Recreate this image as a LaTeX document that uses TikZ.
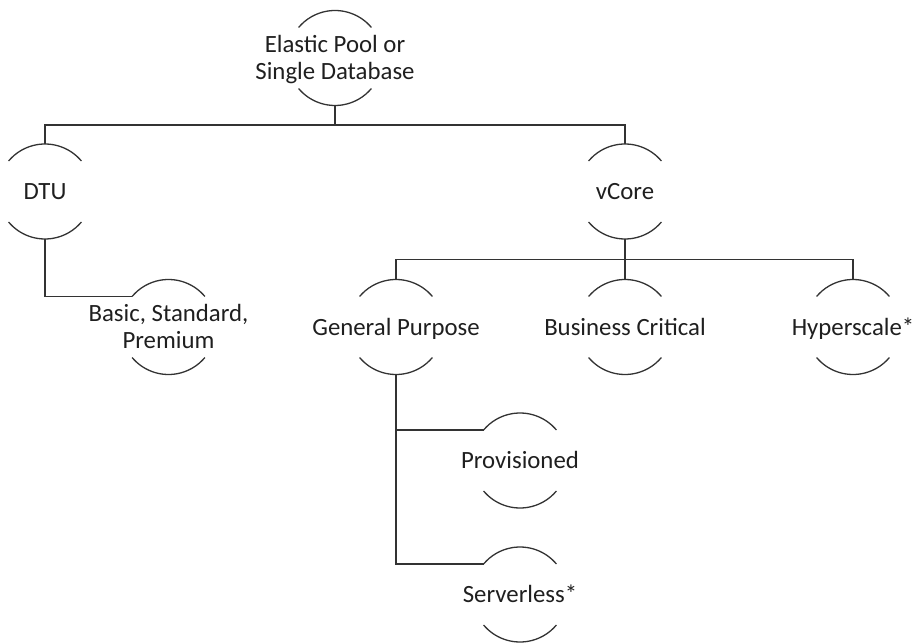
\documentclass[tikz,border=0pt]{standalone}
\usepackage{fontspec}
\setmainfont{Carlito}
\usetikzlibrary{calc}
\tikzset{
  lbl/.style={font=\fontsize{24.8}{27.6}\selectfont, text=black!88, align=center, inner sep=0pt, text height=16pt, text depth=0pt},
  ln/.style={draw=black!80, line width=1.3pt},
}
\newcommand{\bubble}[5]{%
  \coordinate (#1-c) at (#2,#3);
  \node[lbl,#5] (#1) at (#2,#3) {#4};
  \draw[ln] ([shift={(40:47.5pt)}]#1-c) arc[start angle=40,end angle=140,radius=47.5pt];
  \draw[ln] ([shift={(220:47.5pt)}]#1-c) arc[start angle=220,end angle=320,radius=47.5pt];
  \coordinate (#1-t) at ([shift={(90:47.5pt)}]#1-c);
  \coordinate (#1-b) at ([shift={(270:47.5pt)}]#1-c);
  \coordinate (#1-tl) at ([shift={(140:47.5pt)}]#1-c);
}
\begin{document}
\begin{tikzpicture}[x=1pt,y=1pt]
\useasboundingbox (0,0) rectangle (917,643);
\bubble{root}{335}{585}{Elastic Pool or\\Single Database}{yshift=-13.8pt}
\bubble{dtu}{45}{451.5}{DTU}{}
\bubble{vcore}{625}{451.5}{vCore}{}
\bubble{basic}{168.5}{316}{Basic, Standard,\\Premium}{yshift=-13.8pt}
\bubble{gp}{396}{316}{General Purpose}{}
\bubble{bc}{625}{316}{Business Critical}{}
\bubble{hyp}{853}{316}{Hyperscale*}{}
\bubble{prov}{520}{182.5}{Provisioned}{}
\bubble{srv}{520}{48.5}{Serverless*}{}
\coordinate (j1) at (335,518);
\coordinate (j2) at (625,383.5);
\draw[ln] (root-b) -- (j1);
\draw[ln] (dtu-t) -- (dtu-t |- j1) -- (vcore-t |- j1) -- (vcore-t);
\draw[ln] (dtu-b) |- (basic-tl);
\draw[ln] (vcore-b) -- (bc-t);
\draw[ln] (gp-t) -- (gp-t |- j2) -- (hyp-t |- j2) -- (hyp-t);
\draw[ln] (gp-b) |- (srv-tl);
\draw[ln] (gp-b |- prov-tl) -- (prov-tl);
\end{tikzpicture}
\end{document}
